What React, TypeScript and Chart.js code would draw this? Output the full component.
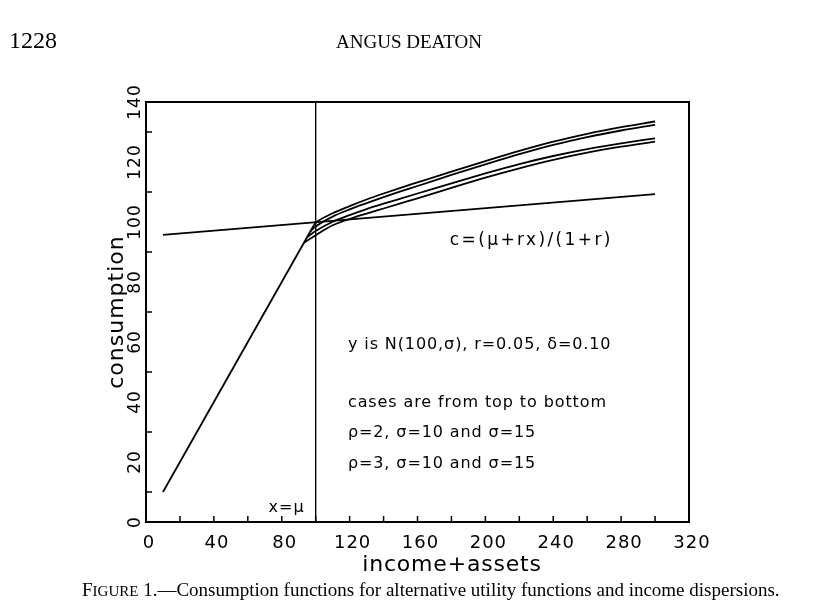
import { useEffect, useRef } from "react";
import { Chart, registerables } from "chart.js";

Chart.register(...registerables);

// ---- axis ticks ----
const xTickLabels = [0, 40, 80, 120, 160, 200, 240, 280, 320];
const yTickLabels = [0, 20, 40, 60, 80, 100, 120, 140];
const xTickMarks = [20, 40, 60, 80, 100, 120, 140, 160, 180, 200, 220, 240, 260, 280, 300];
const yTickMarks = [10, 30, 50, 70, 90, 110, 130];

// ---- series ----
// liquidity-constrained segment c = x
const constrainedX = [10, 99];
const constrainedC = [10, 99];
// c=(mu+rx)/(1+r)
const benchmarkX = [10, 300];
const benchmarkC = [95.7, 109.3];
// x = mu
const meanX = [100, 100];
const meanC = [0, 140];

// rho=2, sigma=10
const r2s10X = [99, 100, 110, 120, 130, 140, 150, 160, 180, 200, 220, 240, 260, 280, 300];
const r2s10C = [99, 99.7, 102.9, 105.3, 107.5, 109.5, 111.4, 113.2, 116.8, 120.3, 123.7, 126.8, 129.4, 131.6, 133.5];
// rho=2, sigma=15
const r2s15X = [97, 100, 110, 120, 130, 140, 150, 160, 180, 200, 220, 240, 260, 280, 300];
const r2s15C = [97, 98.5, 101.8, 104.2, 106.3, 108.3, 110.2, 112.0, 115.7, 119.2, 122.6, 125.7, 128.3, 130.5, 132.4];
// rho=3, sigma=10
const r3s10X = [95, 100, 110, 120, 130, 140, 150, 160, 180, 200, 220, 240, 260, 280, 300];
const r3s10C = [95, 97.0, 100.1, 102.3, 104.3, 106.1, 107.8, 109.5, 112.9, 116.2, 119.3, 122.0, 124.3, 126.2, 127.9];
// rho=3, sigma=15
const r3s15X = [93, 100, 110, 120, 130, 140, 150, 160, 180, 200, 220, 240, 260, 280, 300];
const r3s15C = [93, 95.6, 98.9, 101.0, 102.8, 104.5, 106.2, 107.9, 111.4, 114.8, 117.9, 120.7, 123.1, 125.1, 126.8];

// ---- annotations (data coordinates) ----
const notes = [
  { text: "c=(\u03bc+rx)/(1+r)", x: 179, y: 94.3, align: "left", size: 17, spacing: 2.4 },
  { text: "y is N(100,\u03c3), r=0.05, \u03b4=0.10", x: 119, y: 59.8, align: "left", size: 16, spacing: 0.9 },
  { text: "cases are from top to bottom", x: 119, y: 40.5, align: "left", size: 16, spacing: 0.9 },
  { text: "\u03c1=2, \u03c3=10 and \u03c3=15", x: 119, y: 30.2, align: "left", size: 16, spacing: 0.9 },
  { text: "\u03c1=3, \u03c3=10 and \u03c3=15", x: 119, y: 19.9, align: "left", size: 16, spacing: 0.9 },
  { text: "x=\u03bc", x: 93.5, y: 5.3, align: "right", size: 16, spacing: 1 },
];

const xTitle = "income+assets";
const yTitle = "consumption";
const pageNumber = "1228";
const runningHead = "ANGUS DEATON";
const captionHead = "F";
const captionSmallCaps = "IGURE";
const captionRest = " 1.\u2014Consumption functions for alternative utility functions and income dispersions.";

const SANS = '"DejaVu Sans", sans-serif';
const SERIF = '"Liberation Serif", "Times New Roman", serif';

function pts(xs: number[], cs: number[]) {
  return xs.map((x, i) => ({ x, y: cs[i] }));
}

const decor = {
  id: "decor",
  afterDraw(chart: any) {
    const { ctx, chartArea: a } = chart;
    const xs = chart.scales.x;
    const ys = chart.scales.y;
    ctx.save();
    ctx.strokeStyle = "#000";
    ctx.fillStyle = "#000";

    // frame
    ctx.lineWidth = 2;
    ctx.strokeRect(a.left, a.top, a.right - a.left, a.bottom - a.top);

    // inward tick marks
    ctx.lineWidth = 1.5;
    ctx.beginPath();
    for (const v of xTickMarks) {
      const px = xs.getPixelForValue(v);
      ctx.moveTo(px, a.bottom);
      ctx.lineTo(px, a.bottom - 6);
    }
    for (const v of yTickMarks) {
      const py = ys.getPixelForValue(v);
      ctx.moveTo(a.left, py);
      ctx.lineTo(a.left + 6, py);
    }
    ctx.stroke();

    // x tick labels
    ctx.font = `18px ${SANS}`;
    ctx.letterSpacing = "1px";
    ctx.textAlign = "center";
    ctx.textBaseline = "alphabetic";
    for (const v of xTickLabels) {
      const px = xs.getPixelForValue(v);
      ctx.fillText(String(v), px + 3, a.bottom + 26);
    }
    // y tick labels (rotated)
    ctx.font = `17px ${SANS}`;
    for (const v of yTickLabels) {
      const py = ys.getPixelForValue(v);
      ctx.save();
      ctx.translate(a.left - 6, py);
      ctx.rotate(-Math.PI / 2);
      ctx.fillText(String(v), 0, 0);
      ctx.restore();
    }

    // axis titles
    ctx.font = `22px ${SANS}`;
    ctx.letterSpacing = "0.8px";
    ctx.fillText(xTitle, 452, a.bottom + 49);
    ctx.save();
    ctx.letterSpacing = "1px";
    ctx.translate(a.left - 23, (a.top + a.bottom) / 2);
    ctx.rotate(-Math.PI / 2);
    ctx.fillText(yTitle, 0, 0);
    ctx.restore();

    // annotations
    for (const n of notes) {
      ctx.font = `${n.size}px ${SANS}`;
      ctx.letterSpacing = `${n.spacing}px`;
      ctx.textAlign = n.align as CanvasTextAlign;
      ctx.fillText(n.text, xs.getPixelForValue(n.x), ys.getPixelForValue(n.y) + 6);
    }
    ctx.letterSpacing = "0px";

    // page header
    ctx.textAlign = "left";
    ctx.font = `24px ${SERIF}`;
    ctx.fillText(pageNumber, 9, 48);
    ctx.textAlign = "center";
    ctx.font = `19px ${SERIF}`;
    ctx.fillText(runningHead, 409, 48);

    // caption
    ctx.textAlign = "left";
    let cx = 82;
    const cy = 596;
    ctx.font = `19px ${SERIF}`;
    ctx.fillText(captionHead, cx, cy);
    cx += ctx.measureText(captionHead).width;
    ctx.font = `15px ${SERIF}`;
    ctx.fillText(captionSmallCaps, cx, cy);
    cx += ctx.measureText(captionSmallCaps).width;
    ctx.font = `19px ${SERIF}`;
    ctx.fillText(captionRest, cx, cy);

    ctx.restore();
  },
};

export default function App() {
  const ref = useRef<HTMLCanvasElement>(null);
  useEffect(() => {
    if (!ref.current) return;
    const line = (data: any, extra: any = {}) => ({
      data,
      borderColor: "#000",
      borderWidth: 1.8,
      pointRadius: 0,
      fill: false,
      ...extra,
    });
    const chart = new Chart(ref.current, {
      type: "line",
      data: {
        datasets: [
          line(pts(constrainedX, constrainedC)),
          line(pts(benchmarkX, benchmarkC)),
          line(pts(meanX, meanC), { borderWidth: 1.4 }),
          line(pts(r2s10X, r2s10C), { cubicInterpolationMode: "monotone" }),
          line(pts(r2s15X, r2s15C), { cubicInterpolationMode: "monotone" }),
          line(pts(r3s10X, r3s10C), { cubicInterpolationMode: "monotone" }),
          line(pts(r3s15X, r3s15C), { cubicInterpolationMode: "monotone" }),
        ],
      },
      options: {
        responsive: false,
        animation: false,
        parsing: { xAxisKey: "x", yAxisKey: "y" },
        layout: { padding: { left: 146, right: 145, top: 102, bottom: 92 } },
        plugins: { legend: { display: false }, tooltip: { enabled: false } },
        elements: { line: { tension: 0 } },
        scales: {
          x: {
            type: "linear",
            min: 0,
            max: 320,
            grid: { display: false },
            border: { display: false },
            ticks: { display: false },
            afterFit: (s: any) => {
              s.height = 0;
            },
          },
          y: {
            type: "linear",
            min: 0,
            max: 140,
            grid: { display: false },
            border: { display: false },
            ticks: { display: false },
            afterFit: (s: any) => {
              s.width = 0;
            },
          },
        },
      },
      plugins: [decor],
    });
    return () => chart.destroy();
  }, []);
  return (
    <div style={{ position: "absolute", left: 0, top: 0, width: 834, height: 614, background: "#fff" }}>
      <canvas ref={ref} width={834} height={614} style={{ display: "block" }} />
    </div>
  );
}
